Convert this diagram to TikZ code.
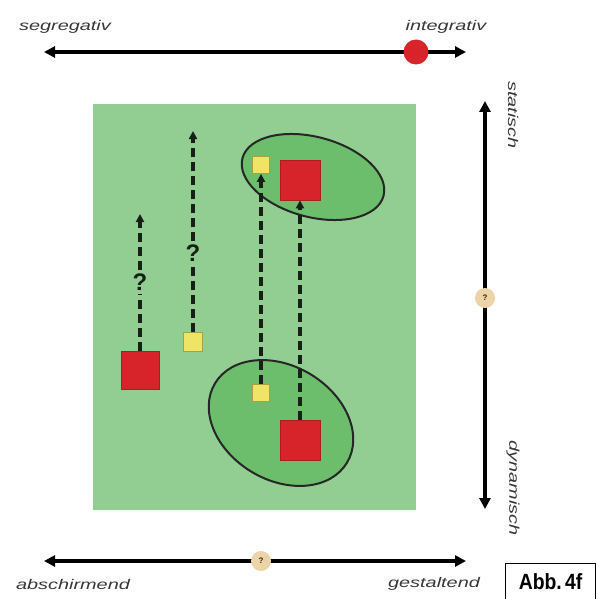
\documentclass[tikz,border=0pt]{standalone}
\usepackage{fontspec}
\setmainfont{Liberation Sans}
\usetikzlibrary{arrows.meta}
\definecolor{bggreen}{RGB}{146,205,146}
\definecolor{ellgreen}{RGB}{108,189,108}
\definecolor{sqred}{RGB}{214,36,42}
\definecolor{sqyellow}{RGB}{240,228,100}
\definecolor{qbeige}{RGB}{236,212,168}
\definecolor{labelgray}{RGB}{55,55,55}
\definecolor{darkline}{RGB}{22,32,22}
\begin{document}
\begin{tikzpicture}[x=1pt,y=-1pt,
  axis/.style={line width=3.6pt, draw=black, {Triangle[length=11pt,width=11pt]}-{Triangle[length=11pt,width=11pt]}},
  lbl/.style={font=\itshape\fontsize{14}{14}\selectfont, text=labelgray, inner sep=0pt},
  ellstyle/.style={fill=ellgreen, draw=black!85, line width=2pt},
  redsq/.style={rectangle, fill=sqred, draw=sqred!80!black, line width=0.8pt, inner sep=0pt, minimum size=#1},
  yelsq/.style={rectangle, fill=sqyellow, draw=sqyellow!70!black, line width=0.8pt, inner sep=0pt, minimum size=#1},
  dasharrow/.style={draw=darkline, line width=3.2pt, dash pattern=on 9pt off 5pt, -{Triangle[length=8pt,width=8pt]}},
  dashplain/.style={draw=darkline, line width=3.2pt, dash pattern=on 9pt off 5pt},
  qmark/.style={font=\bfseries\fontsize{24}{24}\selectfont, text=darkline, inner sep=3pt},
  qcircle/.style={circle, fill=qbeige, minimum size=20pt, inner sep=0pt, font=\bfseries\fontsize{8}{8}\selectfont, text=black!70!brown}
]
\useasboundingbox (0,0) rectangle (595,599);

% green field
\fill[bggreen] (93,104) rectangle (416,510);

% ellipses
\draw[ellstyle, rotate around={-15:(313,177)}] (313,177) ellipse [x radius=73, y radius=40];
\draw[ellstyle, rotate around={-31:(281,423)}] (281,423) ellipse [x radius=77, y radius=57];

% squares
\node[redsq=38pt] (rl) at (140,370) {};
\node[yelsq=19pt] (ym) at (193,342) {};
\node[yelsq=17pt] (yt) at (261,165) {};
\node[yelsq=17pt] (yb) at (261,393) {};
\node[redsq=40pt] (rt) at (300,180) {};
\node[redsq=40pt] (rb) at (300,440) {};

% question marks and free ends
\node[qmark] (q1) at (140,282) {?};
\node[qmark] (q2) at (193,253) {?};
\coordinate (t1) at (140,214);
\coordinate (t2) at (193,131);

% dashed arrows
\draw[dashplain] (rl.north) -- (q1.south);
\draw[dasharrow] (q1.north) -- (t1);
\draw[dashplain] (ym.north) -- (q2.south);
\draw[dasharrow] (q2.north) -- (t2);
\draw[dasharrow] (yb.north) -- (yt.south);
\draw[dasharrow] (rb.north) -- (rt.south);

% top axis
\coordinate (tl) at (44,52);
\coordinate (tr) at (466,52);
\draw[axis] (tl) -- (tr);
\node[circle, fill=sqred, minimum size=25pt, inner sep=0pt] (ci) at (416,52) {};
\node[lbl] (seg) at (65,27) {\scalebox{1.42}[1]{segregativ}};
\node[lbl] (int) at (446,27) {\scalebox{1.42}[1]{integrativ}};

% right axis
\coordinate (rtop) at (485,101);
\coordinate (rbot) at (485,509);
\draw[axis] (rtop) -- (rbot);
\node[qcircle] (qr) at (485,298) {?};
\node[lbl, rotate=-90] (sta) at (513,115) {\scalebox{1.42}[1]{statisch}};
\node[lbl, rotate=-90] (dyn) at (513,488) {\scalebox{1.42}[1]{dynamisch}};

% bottom axis
\coordinate (bl) at (44,561);
\coordinate (br) at (466,561);
\draw[axis] (bl) -- (br);
\node[qcircle] (qb) at (261,561) {?};
\node[lbl] (abs) at (73,584) {\scalebox{1.42}[1]{abschirmend}};
\node[lbl] (ges) at (434,584) {\scalebox{1.42}[1]{gestaltend}};

% figure label
\node[draw=black, line width=1pt, rectangle, minimum width=90pt, minimum height=36pt, inner sep=0pt, anchor=north west,
      font=\bfseries\fontsize{22}{22}\selectfont] (abb) at (505,563) {\scalebox{0.88}[1]{Abb.\,4f}};
\end{tikzpicture}
\end{document}
